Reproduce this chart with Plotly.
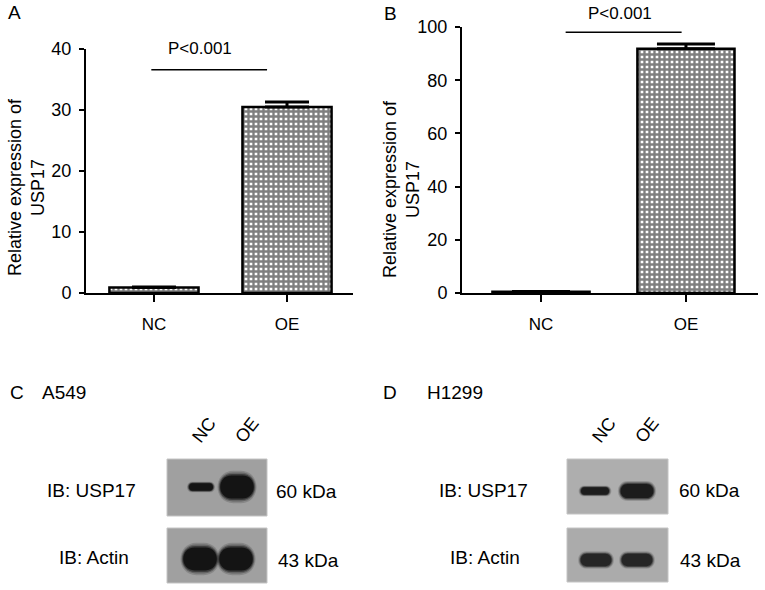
import plotly.graph_objects as go

W, H = 765, 590

# qPCR bars (A: A549, B: H1299)
groups = ["NC", "OE"]
a549_mean = [0.9, 30.5]
a549_err = [0.1, 0.8]
h1299_mean = [0.5, 91.8]
h1299_err = [0.1, 1.8]
p_text = "P<0.001"

# western blot band signal, relative to the strongest band
lanes = ["NC", "OE"]
a549_usp17 = [0.33, 1.0]
a549_actin = [1.0, 1.0]
h1299_usp17 = [0.33, 0.62]
h1299_actin = [0.54, 0.54]


def px(x):
    return x / W


def py(y):
    return 1 - y / H


FONT = "Liberation Sans, Arial, sans-serif"
fig = go.Figure()
shapes = []
annotations = []


def label(txt, x, y, size, xanchor="center", yanchor="middle", **kw):
    annotations.append(dict(text=txt, xref="paper", yref="paper", x=px(x), y=py(y),
                            xanchor=xanchor, yanchor=yanchor, showarrow=False,
                            font=dict(size=size), **kw))


def bar_trace(means, errs, xa, ya, cap):
    return go.Bar(
        x=groups, y=means, width=0.67, xaxis=xa, yaxis=ya, showlegend=False,
        cliponaxis=False,
        marker=dict(color="white", line=dict(color="black", width=2.5),
                    pattern=dict(shape="+", fgcolor="black", bgcolor="white",
                                 size=5, solidity=0.72)),
        error_y=dict(type="data", array=errs, arrayminus=[0] * len(errs),
                     symmetric=False, color="black", thickness=3, width=cap),
    )


fig.add_trace(bar_trace(a549_mean, a549_err, "x", "y", 22))
fig.add_trace(bar_trace(h1299_mean, h1299_err, "x2", "y2", 29))

axis_common = dict(showline=True, linewidth=2, linecolor="black", ticks="outside",
                   tickwidth=2, tickcolor="black", showgrid=False, zeroline=False,
                   fixedrange=True, automargin=False)

layout = dict(
    xaxis=dict(domain=[px(86), px(353)], range=[-0.511, 1.496], type="category",
               ticklen=7, tickfont=dict(size=17), ticklabelstandoff=8, anchor="y",
               **axis_common),
    yaxis=dict(domain=[py(293), py(49)], range=[0, 40], tickvals=[0, 10, 20, 30, 40],
               ticklen=5, tickfont=dict(size=18), ticklabelstandoff=4, anchor="x",
               **axis_common),
    xaxis2=dict(domain=[px(462), px(758)], range=[-0.545, 1.497], type="category",
                ticklen=7, tickfont=dict(size=17), ticklabelstandoff=8, anchor="y2",
                **axis_common),
    yaxis2=dict(domain=[py(293), py(27)], range=[0, 100],
                tickvals=[0, 20, 40, 60, 80, 100],
                ticklen=5, tickfont=dict(size=18), ticklabelstandoff=4, anchor="x2",
                **axis_common),
)

# significance brackets
shapes.append(dict(type="line", xref="x", yref="y", x0=-0.02, x1=0.85, y0=36.6, y1=36.6,
                   line=dict(color="black", width=1.5)))
shapes.append(dict(type="line", xref="x2", yref="y2", x0=0.17, x1=0.97, y0=98, y1=98,
                   line=dict(color="black", width=1.5)))
label(p_text, 200, 48, 17)
label(p_text, 620, 13.5, 17)

# y titles
for xc, yc in [(26, 187), (402, 189)]:
    label("Relative expression of<br>USP17", xc, yc, 18, textangle=-90)

# panel letters and cell line names
label("A", 14, 13, 19)
label("B", 390, 14, 19)
label("C", 17, 392, 19)
label("A549", 40, 392, 19, xanchor="left")
label("D", 390, 392, 19)
label("H1299", 425, 392, 19, xanchor="left")


def band_path(xc, yc, w, h, rx):
    x0, x1 = xc - w / 2, xc + w / 2
    t, b = yc + h / 2, yc - h / 2
    k = rx * 4 / 3
    return (f"M {x0 + rx},{t} L {x1 - rx},{t} "
            f"C {x1 - rx + k},{t} {x1 - rx + k},{b} {x1 - rx},{b} "
            f"L {x0 + rx},{b} "
            f"C {x0 + rx - k},{b} {x0 + rx - k},{t} {x0 + rx},{t} Z")


def blot(n, box, lane_px, band_y, signal, bg, band_col):
    l, t, r, b = box
    sp = lane_px[1] - lane_px[0]
    layout[f"xaxis{n}"] = dict(domain=[px(l), px(r)],
                               range=[(l - lane_px[0]) / sp, (r - lane_px[0]) / sp],
                               visible=False, anchor=f"y{n}", fixedrange=True,
                               automargin=False)
    layout[f"yaxis{n}"] = dict(domain=[py(b), py(t)], range=[-(b - band_y), band_y - t],
                               visible=False, anchor=f"x{n}", fixedrange=True,
                               automargin=False)
    fig.add_trace(go.Scatter(x=[0, 1], y=[0, 0], mode="markers", marker=dict(opacity=0),
                             xaxis=f"x{n}", yaxis=f"y{n}", hoverinfo="skip",
                             showlegend=False))
    shapes.append(dict(type="rect", xref=f"x{n} domain", yref=f"y{n} domain",
                       x0=0, x1=1, y0=0, y1=1, fillcolor=bg,
                       line=dict(color="#c4c4c4", width=1), layer="below"))
    for i, s in enumerate(signal):
        h = 24 * s
        w = 0.55 + 0.4 * s
        for scale, op in [(1.35, 0.18), (1.2, 0.3), (1.08, 0.5), (0.95, 1.0)]:
            hh, ww = h * scale, w * (1 + (scale - 1) * 0.4)
            rx = min((hh / 2) / sp, ww / 2)
            shapes.append(dict(type="path", xref=f"x{n}", yref=f"y{n}",
                               path=band_path(i, 0, ww, hh, rx), fillcolor=band_col,
                               opacity=op, line=dict(width=0), layer="above"))


blot(3, (167, 459, 267, 516), (201, 237), 487, a549_usp17, "#a0a0a0", "#141414")
blot(4, (167, 528, 267, 583), (200, 236), 559, a549_actin, "#a0a0a0", "#141414")
blot(5, (567, 459, 668, 514), (595, 637), 491, h1299_usp17, "#aeaeae", "#1c1c1c")
blot(6, (567, 528, 668, 582), (596, 637), 560, h1299_actin, "#ababab", "#262626")

# lane labels
for xa, shifts in [("x3", (3, 10)), ("x5", (9, 10))]:
    for i, lab in enumerate(lanes):
        annotations.append(dict(text=lab, xref=xa, yref="paper", x=i, y=py(430),
                                xanchor="center", yanchor="middle",
                                xshift=shifts[i], textangle=-52, showarrow=False,
                                font=dict(size=18)))

# antibody and size labels
label("IB: USP17", 138, 490, 19, xanchor="right")
label("IB: Actin", 131, 557, 19, xanchor="right")
label("60 kDa", 274, 491, 19, xanchor="left")
label("43 kDa", 276, 560, 19, xanchor="left")
label("IB: USP17", 530, 490, 19, xanchor="right")
label("IB: Actin", 522, 557, 19, xanchor="right")
label("60 kDa", 677, 490, 19, xanchor="left")
label("43 kDa", 678, 560, 19, xanchor="left")

fig.update_layout(
    width=W, height=H, margin=dict(l=0, r=0, t=0, b=0),
    paper_bgcolor="white", plot_bgcolor="rgba(0,0,0,0)",
    font=dict(family=FONT, color="black"),
    shapes=shapes, annotations=annotations, **layout,
)

# drop the default 8px page margin so the figure fills the window
fig.write_html("out.html", config={"displayModeBar": False},
               post_script="document.body.style.margin = '0px';")
